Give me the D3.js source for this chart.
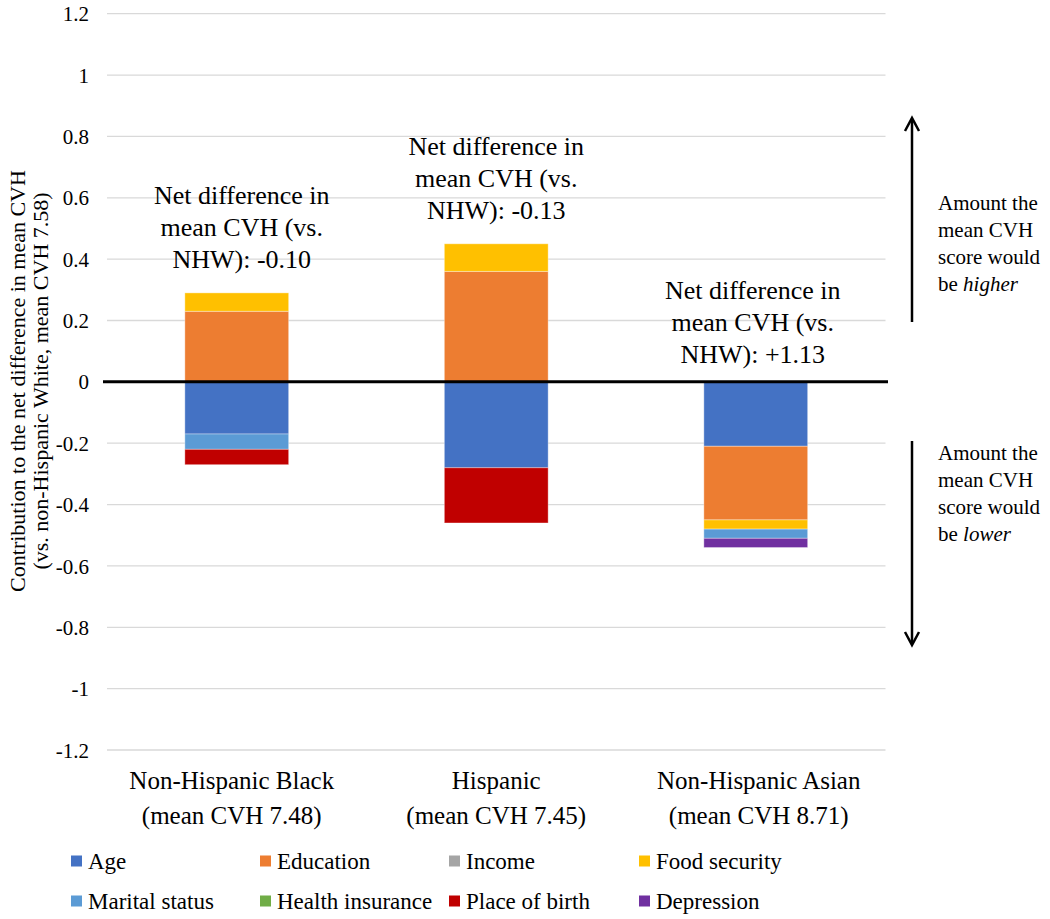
<!DOCTYPE html>
<html>
<head>
<meta charset="utf-8">
<script src="https://cdn.jsdelivr.net/npm/d3@7"></script>
<style>
  html, body { margin: 0; padding: 0; background: #fff; }
  svg { display: block; }
  svg text { font-family: "Times New Roman", "Liberation Serif", Tinos, "DejaVu Serif", serif; }
</style>
</head>
<body>
<svg id="chart" width="1050" height="919"></svg>
<script>
// ---- data ----
const categories = ["Non-Hispanic Black", "Hispanic", "Non-Hispanic Asian"];
const categoryMeans = ["(mean CVH 7.48)", "(mean CVH 7.45)", "(mean CVH 8.71)"];
const seriesNames = ["Age", "Education", "Income", "Food security", "Marital status", "Health insurance", "Place of birth", "Depression"];
const seriesColors = ["#4472C4", "#ED7D31", "#A5A5A5", "#FFC000", "#5B9BD5", "#70AD47", "#C00000", "#7030A0"];
const age             = [-0.17, -0.28, -0.21];
const education       = [ 0.23,  0.36, -0.24];
const income          = [ 0.00,  0.00,  0.00];
const foodSecurity    = [ 0.06,  0.09, -0.03];
const maritalStatus   = [-0.05,  0.00, -0.03];
const healthInsurance = [ 0.00,  0.00,  0.00];
const placeOfBirth    = [-0.05, -0.18,  0.00];
const depression      = [ 0.00,  0.00, -0.03];
const netDifference   = ["-0.10", "-0.13", "+1.13"];
const yTicks = [-1.2, -1, -0.8, -0.6, -0.4, -0.2, 0, 0.2, 0.4, 0.6, 0.8, 1, 1.2];
const yTickLabels = ["-1.2", "-1", "-0.8", "-0.6", "-0.4", "-0.2", "0", "0.2", "0.4", "0.6", "0.8", "1", "1.2"];

const seriesValues = [age, education, income, foodSecurity, maritalStatus, healthInsurance, placeOfBirth, depression];
const rows = categories.map((c, i) => {
  const r = { category: c };
  seriesNames.forEach((s, j) => r[s] = seriesValues[j][i]);
  return r;
});

const FONT = '"Times New Roman", "Liberation Serif", Tinos, "DejaVu Serif", serif';

// ---- layout ----
const svg = d3.select("#chart").attr("font-family", FONT);
const plotLeft = 107, plotRight = 885.5, plotTop = 13.7, plotBottom = 750;

const x = d3.scaleBand().domain(categories).range([plotLeft, plotRight])
  .paddingInner(0.6).paddingOuter(0.3);
const y = d3.scaleLinear().domain([-1.2, 1.2]).range([plotBottom, plotTop]);

// gridlines
svg.append("g").selectAll("line").data(yTicks.filter(t => t !== 0)).join("line")
  .attr("x1", plotLeft).attr("x2", plotRight)
  .attr("y1", d => y(d)).attr("y2", d => y(d))
  .attr("stroke", "#d9d9d9").attr("stroke-width", 1.3);

// y axis labels
const yAxis = d3.axisLeft(y).tickValues(yTicks)
  .tickFormat((d, i) => yTickLabels[i]).tickSize(0).tickPadding(0);
const yg = svg.append("g").attr("transform", `translate(89,0)`).call(yAxis);
yg.attr("font-family", FONT).attr("font-size", 21);
yg.select(".domain").remove();
yg.selectAll("text").attr("fill", "#000").attr("dy", "0.34em");

// stacked bars
const stack = d3.stack().keys(seriesNames).offset(d3.stackOffsetDiverging);
const stacked = stack(rows);
svg.append("g").selectAll("g").data(stacked).join("g")
  .attr("fill", (d, i) => seriesColors[i])
  .selectAll("rect").data(d => d).join("rect")
  .attr("x", d => x(d.data.category))
  .attr("width", x.bandwidth())
  .attr("y", d => y(Math.max(d[0], d[1])))
  .attr("height", d => Math.abs(y(d[0]) - y(d[1])))
  .attr("stroke", "#ffffff").attr("stroke-opacity", 0.35).attr("stroke-width", 1);

// zero line
svg.append("line").attr("x1", 103).attr("x2", 888)
  .attr("y1", y(0)).attr("y2", y(0))
  .attr("stroke", "#000").attr("stroke-width", 3);

// category labels
const catG = svg.append("g").attr("font-size", 25).attr("text-anchor", "middle");
categories.forEach((c, i) => {
  const cx = x(c) + x.bandwidth() / 2 + (i === 0 ? -5 : (i === 2 ? 3 : 0));
  catG.append("text").attr("x", cx).attr("y", 789).text(c);
  catG.append("text").attr("x", cx).attr("y", 824).text(categoryMeans[i]);
});

// net difference annotations
const annBase = [204, 155, 299];
const annG = svg.append("g").attr("font-size", 26).attr("text-anchor", "middle");
categories.forEach((c, i) => {
  const cx = x(c) + x.bandwidth() / 2 + (i === 0 ? 5 : (i === 2 ? -3 : 0));
  const lines = ["Net difference in", "mean CVH (vs.", "NHW): " + netDifference[i]];
  lines.forEach((t, k) => {
    annG.append("text").attr("x", cx).attr("y", annBase[i] + k * 32).text(t);
  });
});

// y axis title
const titleG = svg.append("g").attr("font-size", 22).attr("text-anchor", "middle");
titleG.append("text").attr("transform", "translate(25,381) rotate(-90)")
  .text("Contribution to the net difference in mean CVH");
titleG.append("text").attr("transform", "translate(48,381) rotate(-90)")
  .text("(vs. non-Hispanic White, mean CVH 7.58)");

// arrows
const arrowX = 912;
const arrows = svg.append("g").attr("stroke", "#000").attr("stroke-width", 2.5).attr("fill", "none");
arrows.append("line").attr("x1", arrowX).attr("x2", arrowX).attr("y1", 322).attr("y2", 119);
arrows.append("path").attr("d", `M${arrowX - 7},${131} L${arrowX},${118} L${arrowX + 7},${131}`);
arrows.append("line").attr("x1", arrowX).attr("x2", arrowX).attr("y1", 441).attr("y2", 644);
arrows.append("path").attr("d", `M${arrowX - 7},${632} L${arrowX},${645} L${arrowX + 7},${632}`);

const sideG = svg.append("g").attr("font-size", 21);
const upLines = ["Amount the", "mean CVH", "score would"];
upLines.forEach((t, k) => sideG.append("text").attr("x", 938).attr("y", 210 + k * 27).text(t));
const up4 = sideG.append("text").attr("x", 938).attr("y", 210 + 3 * 27);
up4.append("tspan").text("be ");
up4.append("tspan").attr("font-style", "italic").text("higher");
upLines.forEach((t, k) => sideG.append("text").attr("x", 938).attr("y", 460 + k * 27).text(t));
const dn4 = sideG.append("text").attr("x", 938).attr("y", 460 + 3 * 27);
dn4.append("tspan").text("be ");
dn4.append("tspan").attr("font-style", "italic").text("lower");

// legend
const legendX = [71, 260, 449, 639];
const legendY = [861, 901];
const legG = svg.append("g").attr("font-size", 23);
seriesNames.forEach((s, i) => {
  const lx = legendX[i % 4], ly = legendY[Math.floor(i / 4)];
  legG.append("rect").attr("x", lx).attr("y", ly - 5.5).attr("width", 11).attr("height", 11)
    .attr("fill", seriesColors[i]);
  legG.append("text").attr("x", lx + 17).attr("y", ly + 8).text(s);
});
</script>
</body>
</html>
